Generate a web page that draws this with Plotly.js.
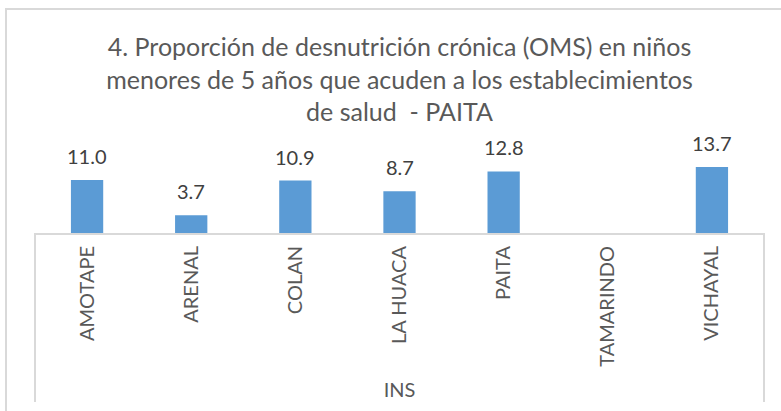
<!DOCTYPE html>
<html>
<head>
<meta charset="utf-8">
<script src="https://cdn.plot.ly/plotly-3.0.1.min.js"></script>
<style>
  html, body { margin: 0; padding: 0; background: #fff; overflow: hidden; }
  #frame { position: absolute; left: 5px; top: 8px; width: 790px; height: 420px;
           border-left: 2px solid #d9d9d9; border-top: 2px solid #d9d9d9; }
  #chart { position: absolute; left: 0; top: 0; width: 781px; height: 411px; }
</style>
</head>
<body>
<div id="frame"></div>
<div id="chart"></div>
<script>
const categories = ["AMOTAPE", "ARENAL", "COLAN", "LA HUACA", "PAITA", "TAMARINDO", "VICHAYAL"];
const values = [11.0, 3.7, 10.9, 8.7, 12.8, null, 13.7];
const groupLabel = "INS";
const titleText = "4. Proporción de desnutrición crónica (OMS) en niños<br>menores de 5 años que acuden a los establecimientos<br>de salud  - PAITA";

const FONT = "Lato, 'Open Sans', sans-serif";
const GRAY = "#595959";

const trace = {
  type: "bar",
  x: categories,
  y: values,
  marker: { color: "#5b9bd5" },
  hoverinfo: "x+y"
};

const annotations = categories.map((c, i) => values[i] == null ? null : ({
  x: c, y: values[i], xref: "x", yref: "y",
  text: values[i].toFixed(1), showarrow: false,
  yanchor: "middle", yshift: 24,
  font: { family: FONT, size: 20, color: "#404040" }
})).filter(a => a);

const layout = {
  width: 781, height: 411,
  margin: { l: 35, r: 17, t: 156, b: 178, pad: 0 },
  paper_bgcolor: "rgba(0,0,0,0)",
  plot_bgcolor: "rgba(0,0,0,0)",
  bargap: 0.69,
  showlegend: false,
  title: {
    text: titleText,
    font: { family: FONT, size: 25, color: GRAY },
    x: 0.5, xref: "paper", xanchor: "center",
    y: 1 - 56 / 411, yref: "container", yanchor: "middle"
  },
  xaxis: {
    type: "category",
    showline: true, linecolor: "#d9d9d9", linewidth: 2,
    ticks: "", tickangle: -90,
    ticklabelstandoff: 3,
    tickfont: { family: FONT, size: 20, color: GRAY },
    showgrid: false, zeroline: false,
    automargin: false,
    title: { text: groupLabel, font: { family: FONT, size: 20, color: GRAY }, standoff: 17 }
  },
  yaxis: {
    range: [0, 16], visible: false, showgrid: false, zeroline: false, fixedrange: true
  },
  annotations: annotations,
  shapes: [
    { type: "line", xref: "paper", yref: "paper", x0: 0, x1: 0, y0: 0, y1: -(402 - 233) / 77,
      line: { color: "#d9d9d9", width: 2 } },
    { type: "line", xref: "paper", yref: "paper", x0: 1, x1: 1, y0: 0, y1: -(402 - 233) / 77,
      line: { color: "#d9d9d9", width: 2 } }
  ]
};

Plotly.newPlot("chart", [trace], layout, { displayModeBar: false, staticPlot: true });
</script>
</body>
</html>
